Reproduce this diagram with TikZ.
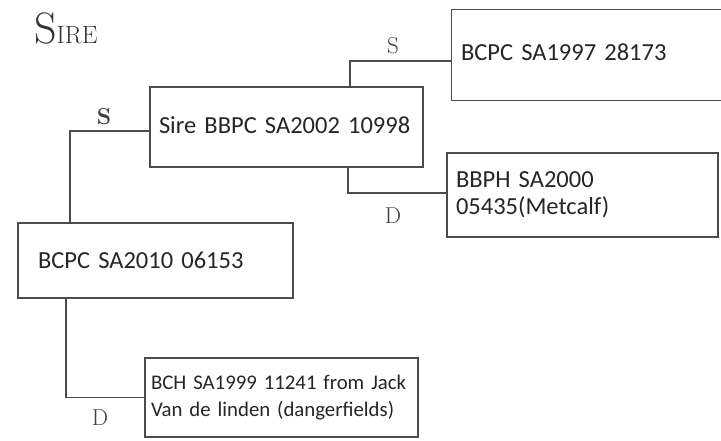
\documentclass[tikz,border=0pt]{standalone}
\usepackage{fontspec}
\setmainfont{Carlito}
\newfontfamily\handfont{Latin Modern Roman}
\begin{document}
\begin{tikzpicture}[x=1pt,y=-1pt,
  line/.style={draw=black!70, line width=1.1pt},
  box/.style={line, inner xsep=9pt, inner ysep=0pt, align=left, text=black!85,
    font=\fontsize{24.5}{27}\selectfont},
  openbox/.style={box, draw=none},
  hand/.style={inner sep=0pt, text=black!75, font=\handfont\fontsize{23}{23}\selectfont}]
\useasboundingbox[fill=white] (0,0) rectangle (721,441);

% heading
\node[inner sep=0pt, anchor=base west, text=black!80] (title) at (34,44)
  {\handfont{\fontsize{44}{44}\selectfont S}{\fontsize{25}{25}\selectfont IRE}};

% boxes
\node[openbox, minimum width=269pt, minimum height=90pt, text width=251pt] (a) at (586.5,55) {\raisebox{5pt}{BCPC SA1997 28173}};
\draw[line] (a.north east) -- (a.north west) -- (a.south west) -- (a.south east);

\node[box, draw, minimum width=273pt, minimum height=80pt, text width=255pt] (b) at (286.5,127) {\raisebox{3pt}{Sire BBPC SA2002 10998}};

\node[box, draw, minimum width=271pt, minimum height=84pt, text width=253pt] (c) at (582.5,195) {BBPH SA2000\\05435(Metcalf)};

\node[box, draw, inner xsep=20pt, minimum width=275pt, minimum height=75pt, text width=235pt] (d) at (155.5,260.5) {BCPC SA2010 06153};

\node[box, draw, inner xsep=6pt, minimum width=273pt, minimum height=79pt, text width=261pt,
  font=\fontsize{20.8}{27}\selectfont] (e) at (281.5,397.5) {\mbox{BCH SA1999 11241 from Jack}\\\mbox{Van de linden (dangerfields)}};

% connectors
\draw[line] ([yshift=-6pt]a.west) -| ([xshift=63.5pt]b.north);
\draw[line] ([yshift=-4pt]b.west) -| ([xshift=-85.5pt]d.north);
\draw[line] ([xshift=61.5pt]b.south) |- ([yshift=2pt]c.west);
\draw[line] ([xshift=-89.5pt]d.south) |- (e.west);

% labels
\node[hand] (s1) at (393,46) {S};
\node[hand] (s2) at (104,117) {\bfseries S};
\node[hand] (d1) at (393,216) {D};
\node[hand] (d2) at (100,418) {D};
\end{tikzpicture}
\end{document}
